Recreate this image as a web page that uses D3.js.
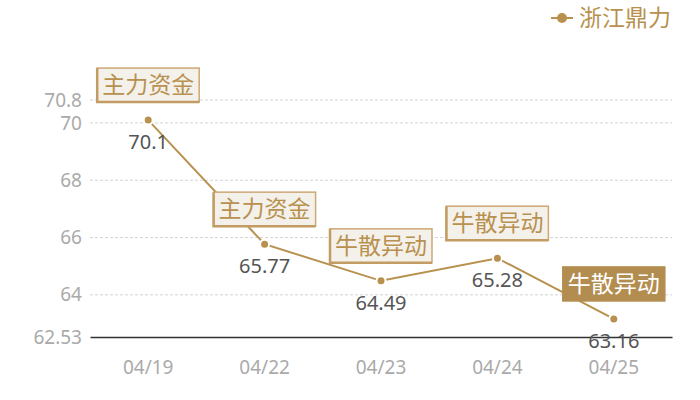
<!DOCTYPE html>
<html>
<head>
<meta charset="utf-8">
<script src="https://cdn.jsdelivr.net/npm/d3@7"></script>
<style>
  html, body { margin: 0; padding: 0; background: #fff; }
  svg { display: block; font-family: "Noto Sans CJK SC", "Noto Sans", sans-serif; }
</style>
</head>
<body>
<svg id="chart" width="700" height="400"></svg>
<script>
// chart data
const dates = ['04/19', '04/22', '04/23', '04/24', '04/25'];
const values = [70.1, 65.77, 64.49, 65.28, 63.16];
const tags = ['主力资金', '主力资金', '牛散异动', '牛散异动', '牛散异动'];
const yTicks = [62.53, 64, 66, 68, 70, 70.8];
const seriesName = '浙江鼎力';

(function() {
  'use strict';

  const gold = '#b8914f';
  const svg = d3.select('#chart');

  const x = d3.scaleBand().domain(dates).range([90, 672]);
  const y = d3.scaleLinear().domain([62.53, 70.8]).range([337, 100]);
  const cx = d => x(d) + x.bandwidth() / 2;

  // Grid lines (dashed), skip the base line
  svg.append('g')
    .selectAll('line')
    .data(yTicks.slice(1))
    .enter()
    .append('line')
    .attr('x1', 90).attr('x2', 672)
    .attr('y1', d => y(d)).attr('y2', d => y(d))
    .attr('stroke', '#d4d4d4')
    .attr('stroke-dasharray', '3,2')
    .attr('stroke-width', 1);

  // Y axis labels
  const yAxis = svg.append('g')
    .attr('transform', 'translate(90,0)')
    .call(d3.axisLeft(y).tickValues(yTicks).tickSize(0).tickPadding(8)
      .tickFormat(d => String(d)));
  yAxis.select('.domain').remove();
  yAxis.selectAll('text')
    .attr('fill', '#aaa')
    .style('font-size', '19px')
    .style('font-family', '"Noto Sans", sans-serif');

  // X axis
  const xAxis = svg.append('g')
    .attr('transform', `translate(0,${y(62.53)})`)
    .call(d3.axisBottom(x).tickSize(0).tickPadding(24));
  xAxis.select('.domain')
    .attr('stroke', '#333')
    .attr('stroke-width', 1.5);
  xAxis.selectAll('text')
    .attr('fill', '#aaa')
    .style('font-size', '19px')
    .style('font-family', '"Noto Sans", sans-serif');

  const pts = dates.map((d, i) => ({ date: d, value: values[i], tag: tags[i], idx: i }));

  // Line
  svg.append('path')
    .datum(pts)
    .attr('fill', 'none')
    .attr('stroke', gold)
    .attr('stroke-width', 2)
    .attr('d', d3.line().x(d => cx(d.date)).y(d => y(d.value)));

  // Markers
  svg.append('g')
    .selectAll('circle')
    .data(pts)
    .enter()
    .append('circle')
    .attr('cx', d => cx(d.date))
    .attr('cy', d => y(d.value))
    .attr('r', 4.5)
    .attr('fill', gold)
    .attr('stroke', '#fff')
    .attr('stroke-width', 2);

  // Value labels
  svg.append('g')
    .selectAll('text')
    .data(pts)
    .enter()
    .append('text')
    .attr('x', d => cx(d.date))
    .attr('y', d => y(d.value) + 29)
    .attr('text-anchor', 'middle')
    .attr('fill', '#555')
    .style('font-size', '20px')
    .style('font-family', '"Noto Sans", sans-serif')
    .text(d => d.value);

  // Tag boxes above points
  const last = pts.length - 1;
  const tag = svg.append('g')
    .selectAll('g')
    .data(pts)
    .enter()
    .append('g')
    .attr('transform', d => `translate(${cx(d.date)},${y(d.value) - 18})`);

  tag.append('rect')
    .attr('x', -51).attr('y', -34)
    .attr('width', 102).attr('height', 34)
    .attr('fill', d => d.idx === last ? '#b38d4f' : '#f4f0ea')
    .attr('stroke', d => d.idx === last ? '#b38d4f' : '#cda874')
    .attr('stroke-width', 1.5);

  // thicker left/bottom edge
  tag.filter(d => d.idx !== last).append('path')
    .attr('d', 'M-51,-34V0H51')
    .attr('fill', 'none')
    .attr('stroke', '#c29c63')
    .attr('stroke-width', 2.5);

  tag.append('text')
    .attr('x', 0).attr('y', -9)
    .attr('text-anchor', 'middle')
    .attr('fill', d => d.idx === last ? '#fff' : gold)
    .style('font-size', '23px')
    .text(d => d.tag);

  // Legend
  const lg = svg.append('g').attr('transform', 'translate(551,18)');
  lg.append('line').attr('x1', 0).attr('x2', 22)
    .attr('stroke', gold).attr('stroke-width', 2);
  lg.append('circle').attr('cx', 11).attr('r', 5).attr('fill', gold);
  lg.append('text')
    .attr('x', 28).attr('y', 8)
    .attr('fill', gold)
    .style('font-size', '23px')
    .text(seriesName);
})();
</script>
</body>
</html>
